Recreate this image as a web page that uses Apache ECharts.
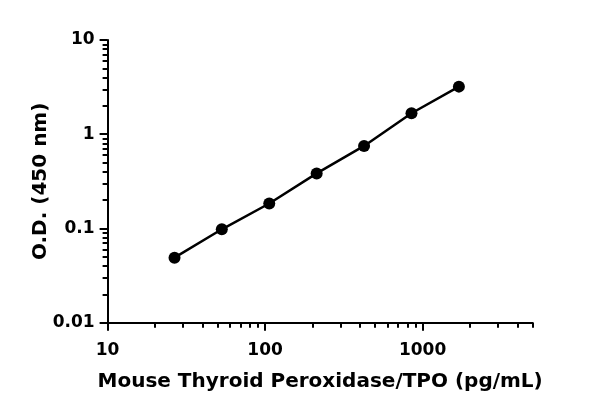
<!DOCTYPE html>
<html>
<head>
<meta charset="utf-8">
<script src="https://cdn.jsdelivr.net/npm/echarts@6/dist/echarts.min.js"></script>
<style>html,body{margin:0;padding:0;background:#fff;}#chart{width:600px;height:416px;}</style>
</head>
<body>
<div id="chart"></div>
<script>
const concentration = [26.6, 53.1, 106.25, 212.5, 425, 850, 1700];
const od = [0.049, 0.098, 0.184, 0.384, 0.751, 1.67, 3.2];
const xMajorTicks = [10, 100, 1000];
const xMinorTicks = [20,30,40,50,60,70,80,90,200,300,400,500,600,700,800,900,2000,3000,4000,5000];
const yMajorTicks = [0.01, 0.1, 1, 10];
const yMinorTicks = [0.02,0.03,0.04,0.05,0.06,0.07,0.08,0.09,0.2,0.3,0.4,0.5,0.6,0.7,0.8,0.9,2,3,4,5,6,7,8,9];
const xTitle = 'Mouse Thyroid Peroxidase/TPO (pg/mL)';
const yTitle = 'O.D. (450 nm)';

const FONT = 'DejaVu Sans';
const chart = echarts.init(document.getElementById('chart'));
const lineStyle = {color:'#000', width:2};
chart.setOption({
  animation:false,
  grid:{left:107.6, right:67.3, top:40, bottom:93.3, containLabel:false},
  xAxis:[{
    type:'log', min:10, max:5000, logBase:10, position:'bottom',
    axisLine:{show:true, onZero:false, lineStyle:lineStyle},
    axisTick:{show:true, inside:false, length:8, lineStyle:lineStyle, customValues:xMajorTicks},
    axisLabel:{show:true, customValues:xMajorTicks, margin:19, color:'#000', fontFamily:FONT, fontWeight:'bold', fontSize:17,
      formatter:function(v){return String(v);}},
    splitLine:{show:false}, minorTick:{show:false},
    name:xTitle, nameLocation:'middle', nameGap:49, nameMoveOverlap:false,
    nameTextStyle:{color:'#000', fontFamily:FONT, fontWeight:'bold', fontSize:20}
  },{
    type:'log', min:10, max:5000, logBase:10, position:'bottom',
    axisLine:{show:false},
    axisTick:{show:true, inside:false, length:5, lineStyle:lineStyle, customValues:xMinorTicks},
    axisLabel:{show:false}, splitLine:{show:false}
  }],
  yAxis:[{
    type:'log', min:0.01, max:10, logBase:10, position:'left',
    axisLine:{show:true, onZero:false, lineStyle:lineStyle},
    axisTick:{show:true, inside:false, length:8, lineStyle:lineStyle, customValues:yMajorTicks},
    axisLabel:{show:true, customValues:yMajorTicks, margin:13, color:'#000', fontFamily:FONT, fontWeight:'bold', fontSize:17,
      formatter:function(v){return String(v);}},
    splitLine:{show:false},
    name:yTitle, nameLocation:'middle', nameGap:57, nameMoveOverlap:false,
    nameTextStyle:{color:'#000', fontFamily:FONT, fontWeight:'bold', fontSize:20}
  },{
    type:'log', min:0.01, max:10, logBase:10, position:'left',
    axisLine:{show:false},
    axisTick:{show:true, inside:false, length:5, lineStyle:lineStyle, customValues:yMinorTicks},
    axisLabel:{show:false}, splitLine:{show:false}
  }],
  series:[{
    type:'line',
    data:concentration.map((c,i)=>[c, od[i]]),
    symbol:'circle', symbolSize:12,
    itemStyle:{color:'#000'},
    lineStyle:{color:'#000', width:2.5},
    smooth:false
  }]
});
</script>
</body>
</html>
